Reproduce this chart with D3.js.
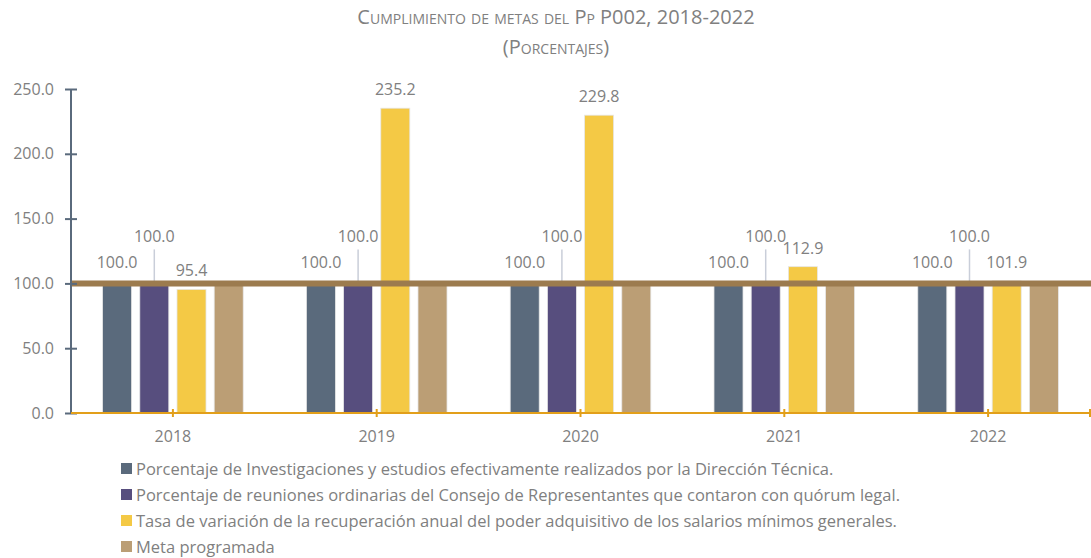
<!DOCTYPE html>
<html>
<head>
<meta charset="utf-8">
<script src="https://cdn.jsdelivr.net/npm/d3@7"></script>
<style>
  html, body { margin: 0; padding: 0; background: #fff; }
  svg { display: block; font-family: "Open Sans", "Noto Sans", sans-serif; }
  .title { font-variant: small-caps; }
</style>
</head>
<body>
<svg id="chart" width="1091" height="558"></svg>
<script>
// ---- Data ----
const years = ["2018", "2019", "2020", "2021", "2022"];
const investigaciones = [100.0, 100.0, 100.0, 100.0, 100.0];
const reuniones = [100.0, 100.0, 100.0, 100.0, 100.0];
const tasa = [95.4, 235.2, 229.8, 112.9, 101.9];
const meta = [100.0, 100.0, 100.0, 100.0, 100.0];
const metaLineValue = 100.0;
const yTicks = [0, 50, 100, 150, 200, 250];
const seriesNames = [
  "Porcentaje de Investigaciones y estudios efectivamente realizados por la Dirección Técnica.",
  "Porcentaje de reuniones ordinarias del Consejo de Representantes que contaron con quórum legal.",
  "Tasa de variación de la recuperación anual del poder adquisitivo de los salarios mínimos generales.",
  "Meta programada"
];
const titleLines = ["Cumplimiento de metas del Pp P002, 2018-2022", "(Porcentajes)"];

// ---- Styles ----
const colors = ["#5a6a7c", "#574e7e", "#f4c945", "#bb9e75"];
const textColor = "#808080";
const seriesValues = [investigaciones, reuniones, tasa, meta];
const series = seriesNames.map((name, i) => ({ name, values: seriesValues[i], color: colors[i], idx: i }));

const svg = d3.select("#chart");

// ---- Scales ----
const x = d3.scaleBand().domain(years).range([71, 1090]).padding(0);
const xInner = d3.scaleBand().domain(d3.range(4))
  .range([-74.4, 74.4]).paddingInner(0.22).paddingOuter(0.11);
const y = d3.scaleLinear().domain([0, 250]).range([413, 89]);

// ---- Title ----
svg.selectAll("text.title").data(titleLines).join("text")
  .attr("class", "title")
  .attr("x", 556)
  .attr("y", (d, i) => 24 + i * 30)
  .attr("text-anchor", "middle")
  .attr("fill", textColor)
  .attr("font-size", 20)
  .text(d => d);

// ---- Bars ----
const groups = svg.selectAll("g.year").data(years).join("g")
  .attr("class", "year")
  .attr("transform", d => `translate(${x(d) + x.bandwidth() / 2},0)`);

groups.each(function(yr, yi) {
  const g = d3.select(this);
  series.forEach(s => {
    const v = s.values[yi];
    g.append("rect")
      .attr("x", xInner(s.idx))
      .attr("width", xInner.bandwidth())
      .attr("y", y(v))
      .attr("height", y(0) - y(v))
      .attr("fill", s.color)
      .attr("stroke", "#e6e6e6")
      .attr("stroke-width", 0.8);
  });
});

// ---- Meta line ----
svg.append("line")
  .attr("x1", x.range()[0]).attr("x2", 1091)
  .attr("y1", y(metaLineValue)).attr("y2", y(metaLineValue))
  .attr("stroke", "#9c7b4e").attr("stroke-width", 6);

// ---- Y axis ----
const yAxis = svg.append("g")
  .attr("transform", `translate(${x.range()[0]},0)`)
  .call(d3.axisLeft(y).tickValues(yTicks).tickFormat(d3.format(".1f")).tickSize(6).tickPadding(11));
yAxis.select(".domain").attr("stroke", "#5a6a7c").attr("stroke-width", 2)
  .attr("d", `M0,${y(250)}V${y(0)}`);
yAxis.selectAll(".tick line").attr("stroke", "#5a6a7c").attr("stroke-width", 2).attr("x1", 6).attr("x2", -6);
yAxis.selectAll(".tick text").attr("fill", textColor).attr("font-size", 16)
  .attr("font-family", "'Open Sans', sans-serif");

// ---- X axis ----
const xAxis = svg.append("g")
  .attr("transform", `translate(0,${y(0)})`)
  .call(d3.axisBottom(x).tickSize(0).tickPadding(18));
xAxis.select(".domain").attr("stroke", "#e29f1a").attr("stroke-width", 2)
  .attr("d", `M${x.range()[0]},0H1091`);
xAxis.selectAll(".tick text").attr("fill", textColor).attr("font-size", 16)
  .attr("font-family", "'Open Sans', sans-serif");
const xTickPos = years.map(d => x(d) + x.bandwidth() / 2).concat([x.range()[1]]);
xAxis.selectAll("line.xt").data(xTickPos).join("line")
  .attr("class", "xt")
  .attr("x1", d => d).attr("x2", d => d)
  .attr("y1", -4).attr("y2", 4)
  .attr("stroke", "#e29f1a").attr("stroke-width", 2);

// ---- Data labels ----
const fmt = d3.format(".1f");
groups.each(function(yr, yi) {
  const g = d3.select(this);
  // series 1
  g.append("text")
    .attr("x", xInner(0) + xInner.bandwidth() / 2)
    .attr("y", y(investigaciones[yi]) - 15)
    .attr("text-anchor", "middle").attr("fill", textColor).attr("font-size", 16)
    .text(fmt(investigaciones[yi]));
  // series 2 with leader line
  const cx2 = xInner(1) + xInner.bandwidth() / 2;
  g.append("line")
    .attr("x1", cx2).attr("x2", cx2)
    .attr("y1", y(reuniones[yi]) - 34).attr("y2", y(reuniones[yi]))
    .attr("stroke", "#c9ced9").attr("stroke-width", 1.5);
  g.append("text")
    .attr("x", cx2)
    .attr("y", y(reuniones[yi]) - 41)
    .attr("text-anchor", "middle").attr("fill", textColor).attr("font-size", 16)
    .text(fmt(reuniones[yi]));
  // series 3
  g.append("text")
    .attr("x", xInner(2) + xInner.bandwidth() / 2)
    .attr("y", y(tasa[yi]) - 13)
    .attr("text-anchor", "middle").attr("fill", textColor).attr("font-size", 16)
    .text(fmt(tasa[yi]));
});

// ---- Legend ----
const legend = svg.selectAll("g.legend").data(series).join("g")
  .attr("class", "legend")
  .attr("transform", (d, i) => `translate(121,${463 + i * 26})`);
legend.append("rect")
  .attr("width", 11).attr("height", 11)
  .attr("fill", d => d.color);
legend.append("text")
  .attr("x", 15).attr("y", 11.5)
  .attr("fill", textColor).attr("font-size", 16.5)
  .text(d => d.name);
</script>
</body>
</html>
